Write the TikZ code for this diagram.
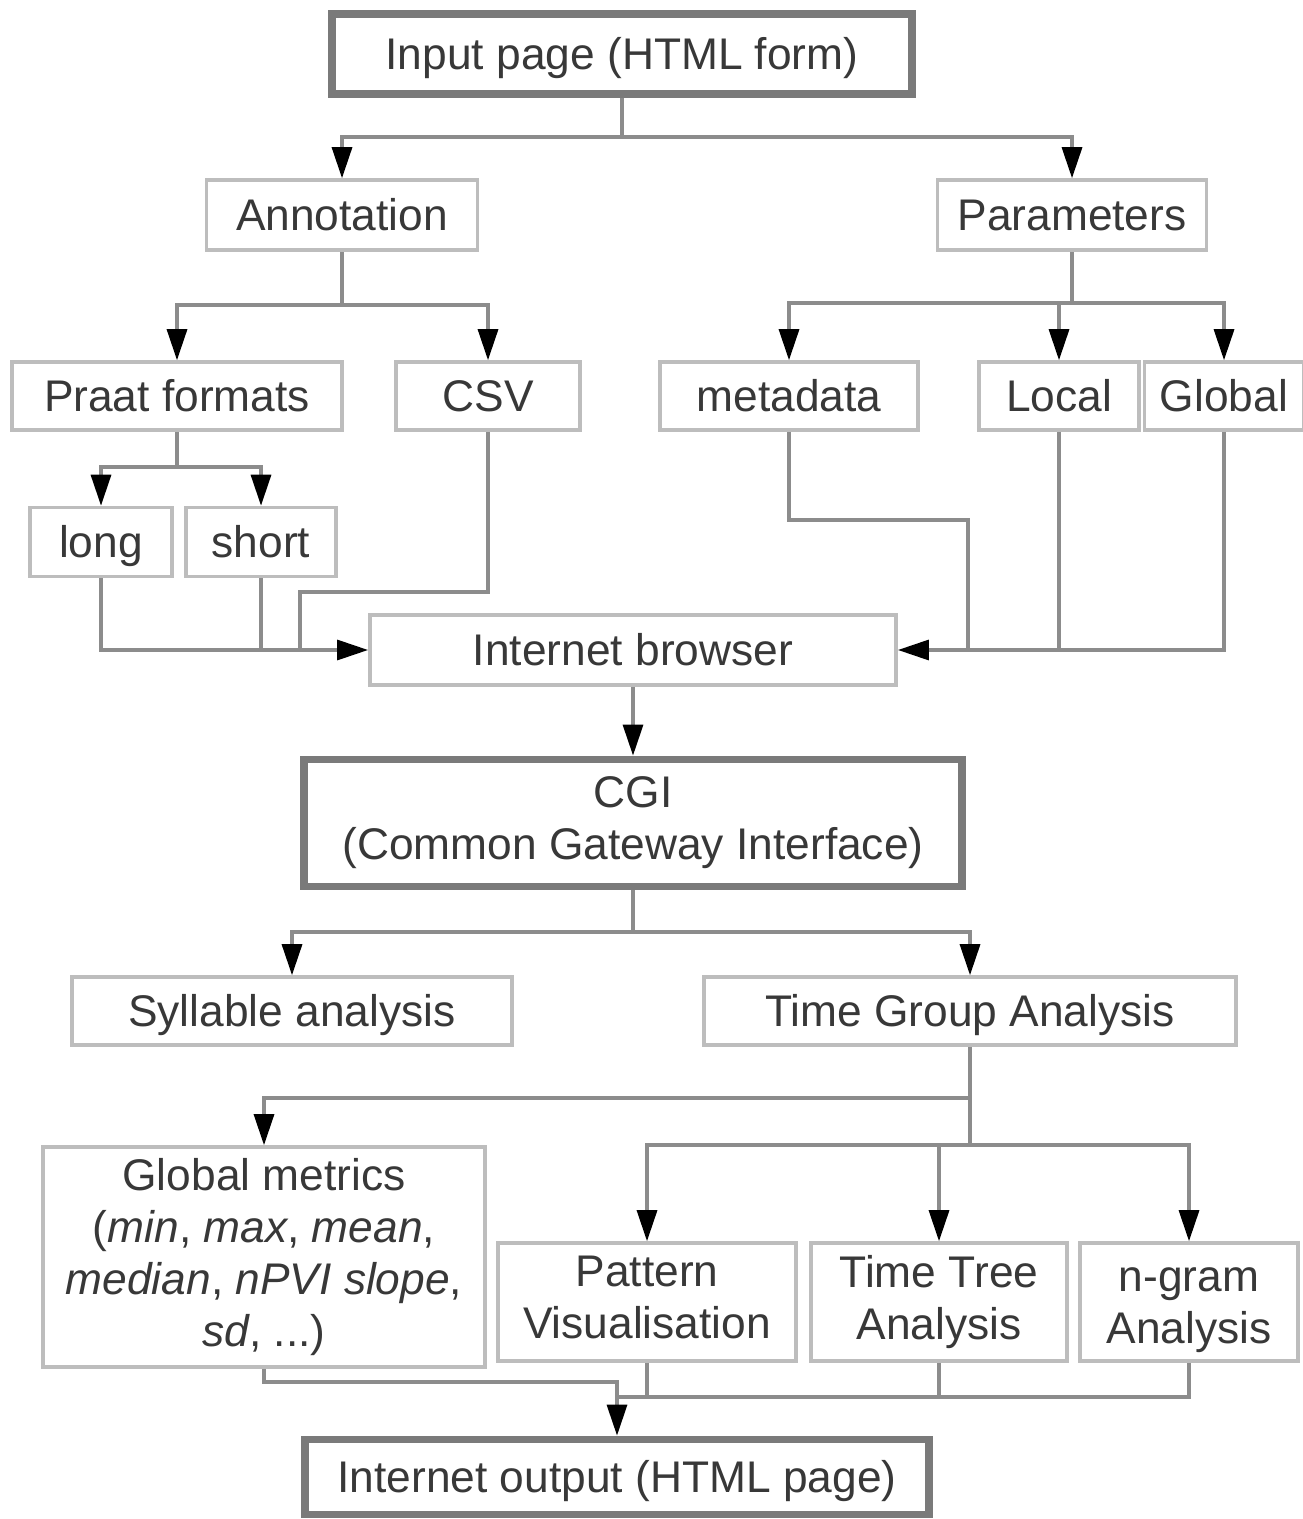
\documentclass[tikz,border=0pt]{standalone}
\usepackage{fontspec}
\setmainfont{Liberation Sans}
\usetikzlibrary{arrows.meta}

\definecolor{boxgray}{HTML}{BDBDBD}
\definecolor{linegray}{HTML}{8C8C8C}
\definecolor{thickgray}{HTML}{7A7A7A}
\definecolor{textgray}{HTML}{383838}
\newcommand{\bstrut}{\rule[-0.21em]{0pt}{1.14em}}

\tikzstyle{box} = [draw=boxgray, line width=1pt, fill=white, text=textgray, inner sep=0pt, align=center, font=\fontsize{12.6}{14.8}\selectfont, execute at begin node=\bstrut, execute at end node=\bstrut]
\tikzstyle{mainbox} = [box, draw=thickgray, line width=2.2pt]
\tikzstyle{conn} = [draw=linegray, line width=0.9pt]
\tikzstyle{arr} = [conn, -{Triangle[length=3.1mm, width=2mm, color=black]}]

\begin{document}
\begin{tikzpicture}[x=0.01cm, y=-0.01cm]
\useasboundingbox (0,0) rectangle (1302,1519);

% boxes
\node[mainbox, minimum width=5.79cm, minimum height=0.8cm] (input) at (622,54) {Input page (HTML form)};
\node[box, minimum width=2.71cm, minimum height=0.7cm] (annot) at (342,215) {Annotation};
\node[box, minimum width=2.69cm, minimum height=0.7cm] (params) at (1072,215) {Parameters};
\node[box, minimum width=3.30cm, minimum height=0.68cm] (praat) at (177,396) {Praat formats};
\node[box, minimum width=1.84cm, minimum height=0.68cm] (csv) at (488,396) {CSV};
\node[box, minimum width=2.58cm, minimum height=0.68cm] (meta) at (789,396) {metadata};
\node[box, minimum width=1.60cm, minimum height=0.68cm] (local) at (1059,396) {Local};
\node[box, minimum width=1.59cm, minimum height=0.68cm] (global) at (1224,396) {Global};
\node[box, minimum width=1.42cm, minimum height=0.69cm] (long) at (101,542) {long};
\node[box, minimum width=1.50cm, minimum height=0.69cm] (short) at (261,542) {short};
\node[box, minimum width=5.26cm, minimum height=0.70cm] (browser) at (633,650) {Internet browser};
\node[mainbox, minimum width=6.57cm, minimum height=1.27cm] (cgi) at (633,823) {CGI\\(Common Gateway Interface)};
\node[box, minimum width=4.40cm, minimum height=0.68cm] (syll) at (292,1011) {Syllable analysis};
\node[box, minimum width=5.32cm, minimum height=0.68cm] (tga) at (970,1011) {Time Group Analysis};
\node[box, minimum width=4.42cm, minimum height=2.20cm] (gmet) at (264,1257) {Global metrics\\(\textit{min}, \textit{max}, \textit{mean},\\\textit{median}, \textit{nPVI slope},\\\textit{sd}, ...)};
\node[box, minimum width=2.98cm, minimum height=1.18cm] (patt) at (647,1302) {Pattern\\Visualisation};
\node[box, minimum width=2.56cm, minimum height=1.18cm] (ttree) at (939,1302) {Time Tree\\Analysis};
\node[box, minimum width=2.18cm, minimum height=1.18cm] (ngram) at (1189,1302) {\bstrut n-gram\\Analysis};
\node[mainbox, minimum width=6.23cm, minimum height=0.75cm] (output) at (617,1477) {Internet output (HTML page)};

% forks
\coordinate (inputfork) at (622,137);
\coordinate (annotfork) at (342,305);
\coordinate (paramsfork) at (1072,303);
\coordinate (praatfork) at (177,467);
\coordinate (csvbend) at (300,592);
\coordinate (metabend) at (968,520);
\coordinate (cgifork) at (633,932);
\coordinate (tgafork) at (970,1098);
\coordinate (tgafork2) at (970,1145);
\coordinate (outjoin) at (617,1382);
\coordinate (anbar) at (617,1397);

\draw[conn] (input.south) -- (inputfork);
\draw[arr] (inputfork) -| (annot.north);
\draw[arr] (inputfork) -| (params.north);

\draw[conn] (annot.south) -- (annotfork);
\draw[arr] (annotfork) -| (praat.north);
\draw[arr] (annotfork) -| (csv.north);

\draw[conn] (params.south) -- (paramsfork);
\draw[arr] (paramsfork) -| (meta.north);
\draw[arr] (paramsfork) -| (local.north);
\draw[arr] (paramsfork) -| (global.north);

\draw[conn] (praat.south) -- (praatfork);
\draw[arr] (praatfork) -| (long.north);
\draw[arr] (praatfork) -| (short.north);

% into the browser
\draw[arr] (long.south) |- (browser.west);
\draw[conn] (short.south) -- (short.south |- browser.west);
\draw[conn] (csv.south) |- (csvbend) -- (csvbend |- browser.west);
\draw[arr] (global.south) |- (browser.east);
\draw[conn] (local.south) -- (local.south |- browser.east);
\draw[conn] (meta.south) |- (metabend) -- (metabend |- browser.east);

\draw[arr] (browser.south) -- (cgi.north);

\draw[conn] (cgi.south) -- (cgifork);
\draw[arr] (cgifork) -| (syll.north);
\draw[arr] (cgifork) -| (tga.north);

\draw[conn] (tga.south) -- (tgafork) -- (tgafork2);
\draw[arr] (tgafork) -| (gmet.north);
\draw[arr] (tgafork2) -| (patt.north);
\draw[arr] (tgafork2) -| (ttree.north);
\draw[arr] (tgafork2) -| (ngram.north);

% into the output
\draw[arr] (gmet.south) |- (outjoin) -- (output.north);
\draw[conn] (ngram.south) |- (anbar);
\draw[conn] (patt.south) -- (patt.south |- anbar);
\draw[conn] (ttree.south) -- (ttree.south |- anbar);
\end{tikzpicture}
\end{document}
